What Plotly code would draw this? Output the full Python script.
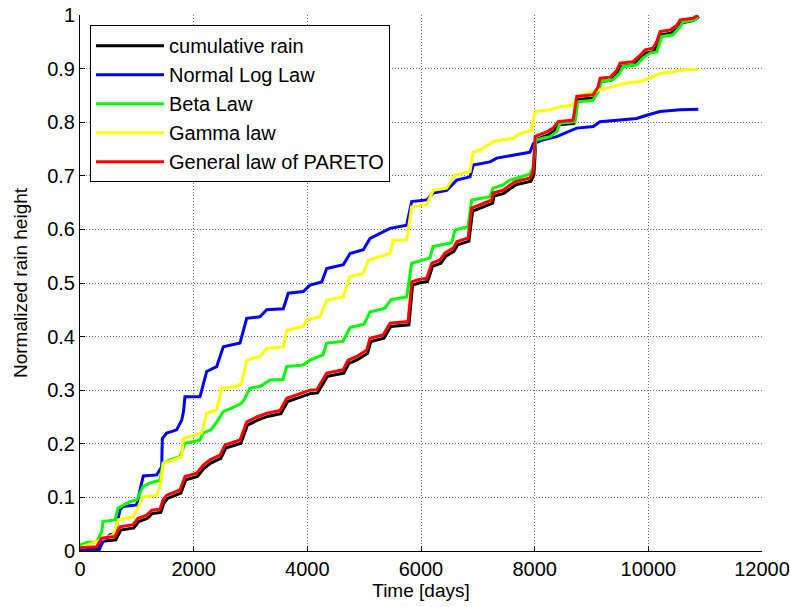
import plotly.graph_objects as go

# ---------------- data ----------------
# cumulative rain (black)
rain_x = [0, 300, 395, 630, 718, 947, 1035, 1188, 1276, 1422, 1475, 1540, 1774, 1862, 2068,
          2179, 2302, 2478, 2566, 2830, 2948, 3124, 3300, 3534, 3652, 3939, 4062, 4180, 4356,
          4643, 4731, 4884, 5060, 5118, 5347, 5470, 5787, 5852, 5963, 6116, 6204, 6350, 6438,
          6579, 6644, 6843, 6908, 7054, 7260, 7283, 7459, 7582, 7670, 7934, 7987, 8022, 8075,
          8228, 8339, 8427, 8691, 8756, 9043, 9131, 9166, 9342, 9460, 9518, 9747, 9870, 9958,
          10099, 10164, 10222, 10398, 10516, 10574, 10803, 10890]
rain_y = [0.003, 0.004, 0.018, 0.021, 0.039, 0.043, 0.055, 0.061, 0.070, 0.072, 0.089, 0.098,
          0.108, 0.133, 0.139, 0.154, 0.164, 0.173, 0.192, 0.201, 0.235, 0.244, 0.251, 0.256,
          0.279, 0.289, 0.294, 0.295, 0.326, 0.332, 0.350, 0.357, 0.369, 0.391, 0.397, 0.419,
          0.422, 0.496, 0.500, 0.503, 0.531, 0.537, 0.550, 0.559, 0.571, 0.578, 0.634, 0.640,
          0.649, 0.662, 0.667, 0.677, 0.683, 0.690, 0.702, 0.767, 0.770, 0.776, 0.783, 0.795,
          0.798, 0.842, 0.845, 0.860, 0.876, 0.878, 0.891, 0.904, 0.907, 0.919, 0.929, 0.932,
          0.945, 0.963, 0.966, 0.975, 0.985, 0.990, 0.997]

# Normal Log Law (blue)
lognorm_x = [0, 334, 405, 528, 616, 669, 704, 757, 998, 1056, 1114, 1350, 1438, 1448, 1525,
             1701, 1789, 1821, 1847, 2111, 2229, 2405, 2521, 2815, 2933, 3167, 3285, 3577, 3665,
             3929, 4047, 4253, 4341, 4633, 4751, 4985, 5103, 5455, 5748, 5836, 6100, 6216, 6452,
             6628, 6862, 6920, 7214, 7332, 7624, 7918, 7976, 8152, 8387, 8739, 9032, 9149, 9501,
             9795, 9971, 10205, 10557, 10879]
lognorm_y = [0.000, 0.001, 0.018, 0.030, 0.033, 0.064, 0.077, 0.083, 0.086, 0.114, 0.140, 0.142,
             0.157, 0.210, 0.220, 0.226, 0.244, 0.260, 0.288, 0.288, 0.335, 0.344, 0.381, 0.388,
             0.434, 0.437, 0.450, 0.452, 0.481, 0.484, 0.496, 0.502, 0.527, 0.534, 0.555, 0.562,
             0.583, 0.602, 0.608, 0.652, 0.655, 0.668, 0.673, 0.692, 0.698, 0.720, 0.726, 0.733,
             0.739, 0.744, 0.760, 0.767, 0.773, 0.789, 0.792, 0.801, 0.804, 0.807, 0.813, 0.820,
             0.823, 0.824]

# Beta Law (green)
beta_x = [0, 118, 294, 382, 405, 616, 669, 880, 998, 1108, 1232, 1408, 1460, 1584, 1760, 1847,
          1988, 2111, 2164, 2305, 2428, 2516, 2657, 2833, 2886, 2991, 3167, 3343, 3572, 3637,
          3924, 4047, 4276, 4341, 4627, 4751, 4997, 5103, 5366, 5472, 5748, 5836, 5947, 6158,
          6211, 6540, 6598, 6827, 6892, 7091, 7214, 7267, 7443, 7566, 7684, 7918, 7971, 8023,
          8146, 8270, 8387, 8446, 8710, 8762, 9026, 9114, 9179, 9378, 9501, 9554, 9795, 9906,
          10029, 10147, 10235, 10434, 10557, 10610, 10821, 10874]
beta_y = [0.011, 0.016, 0.017, 0.036, 0.055, 0.058, 0.080, 0.092, 0.095, 0.120, 0.127, 0.132,
          0.164, 0.170, 0.176, 0.201, 0.204, 0.207, 0.220, 0.226, 0.244, 0.260, 0.266, 0.275,
          0.282, 0.304, 0.307, 0.319, 0.320, 0.344, 0.347, 0.356, 0.366, 0.388, 0.391, 0.417,
          0.423, 0.446, 0.453, 0.469, 0.474, 0.537, 0.540, 0.547, 0.568, 0.575, 0.599, 0.605,
          0.655, 0.659, 0.661, 0.677, 0.683, 0.692, 0.696, 0.703, 0.716, 0.767, 0.770, 0.773,
          0.782, 0.798, 0.801, 0.838, 0.841, 0.857, 0.876, 0.879, 0.892, 0.904, 0.907, 0.920,
          0.929, 0.931, 0.960, 0.963, 0.978, 0.987, 0.991, 0.997]

# Gamma law (yellow)
gamma_x = [0, 352, 586, 674, 938, 1114, 1350, 1408, 1466, 1642, 1789, 1818, 1994, 2141, 2229,
           2405, 2493, 2757, 2845, 2933, 3167, 3285, 3577, 3637, 3929, 3989, 4223, 4341, 4633,
           4751, 4985, 5073, 5455, 5513, 5748, 5836, 6100, 6216, 6452, 6598, 6862, 6920, 7038,
           7272, 7624, 7742, 7948, 8006, 8270, 8446, 8680, 8739, 9032, 9149, 9384, 9619, 9853,
           10029, 10205, 10439, 10557, 10879]
gamma_y = [0.006, 0.020, 0.030, 0.058, 0.064, 0.101, 0.104, 0.120, 0.164, 0.170, 0.176, 0.210,
           0.216, 0.220, 0.257, 0.263, 0.304, 0.307, 0.313, 0.356, 0.363, 0.378, 0.381, 0.412,
           0.419, 0.431, 0.437, 0.468, 0.474, 0.512, 0.518, 0.543, 0.555, 0.580, 0.580, 0.642,
           0.646, 0.673, 0.677, 0.701, 0.708, 0.745, 0.748, 0.764, 0.770, 0.779, 0.785, 0.820,
           0.823, 0.829, 0.832, 0.848, 0.857, 0.860, 0.866, 0.873, 0.876, 0.882, 0.891, 0.894,
           0.897, 0.899]

# General law of PARETO (red)
pareto_x = [0, 294, 382, 616, 704, 933, 1021, 1174, 1262, 1408, 1461, 1526, 1760, 1848, 2054,
            2165, 2288, 2464, 2552, 2816, 2934, 3110, 3286, 3520, 3638, 3925, 4048, 4166, 4342,
            4629, 4717, 4870, 5046, 5104, 5333, 5456, 5773, 5838, 5949, 6102, 6190, 6336, 6424,
            6565, 6630, 6829, 6894, 7040, 7246, 7269, 7445, 7568, 7656, 7920, 7973, 8008, 8061,
            8214, 8325, 8413, 8677, 8742, 9029, 9117, 9152, 9328, 9446, 9504, 9733, 9856, 9944,
            10085, 10150, 10208, 10384, 10502, 10560, 10789, 10877]
pareto_y = [0.006, 0.008, 0.024, 0.027, 0.045, 0.049, 0.061, 0.067, 0.076, 0.078, 0.095, 0.104,
            0.114, 0.139, 0.145, 0.160, 0.170, 0.179, 0.198, 0.207, 0.241, 0.250, 0.257, 0.262,
            0.285, 0.295, 0.300, 0.301, 0.332, 0.338, 0.356, 0.363, 0.375, 0.397, 0.403, 0.425,
            0.428, 0.502, 0.506, 0.509, 0.537, 0.543, 0.556, 0.565, 0.577, 0.584, 0.640, 0.646,
            0.655, 0.668, 0.673, 0.683, 0.689, 0.696, 0.708, 0.773, 0.776, 0.782, 0.789, 0.801,
            0.804, 0.848, 0.851, 0.866, 0.882, 0.884, 0.897, 0.910, 0.913, 0.925, 0.935, 0.938,
            0.951, 0.969, 0.972, 0.981, 0.991, 0.994, 1.000]

series_names = ["cumulative rain", "Normal Log Law", "Beta Law", "Gamma law", "General law of PARETO"]
series_colors = ["#000000", "#0000FF", "#00FF00", "#FFFF00", "#FF0000"]

x_ticks = [0, 2000, 4000, 6000, 8000, 10000, 12000]
x_ticktext = ["0", "2000", "4000", "6000", "8000", "10000", "12000"]
y_ticks = [0, 0.1, 0.2, 0.3, 0.4, 0.5, 0.6, 0.7, 0.8, 0.9, 1.0]
y_ticktext = ["0", "0.1", "0.2", "0.3", "0.4", "0.5", "0.6", "0.7", "0.8", "0.9", "1"]

# ---------------- figure ----------------
FONT = "Arial, 'Liberation Sans', sans-serif"
xs = [rain_x, lognorm_x, beta_x, gamma_x, pareto_x]
ys = [rain_y, lognorm_y, beta_y, gamma_y, pareto_y]

fig = go.Figure()
for name, color, x, y in zip(series_names, series_colors, xs, ys):
    fig.add_trace(go.Scatter(x=x, y=y, mode="lines", name=name,
                             line=dict(color=color, width=3)))

grid_style = dict(showgrid=True, gridcolor="#6e6e6e", gridwidth=1, griddash="1px,2px",
                  zeroline=False, automargin=False)

fig.update_layout(
    width=790, height=607,
    margin=dict(l=80, r=28, t=15, b=56, autoexpand=False),
    paper_bgcolor="white", plot_bgcolor="white",
    font=dict(family=FONT, size=20, color="black"),
    showlegend=True,
    legend=dict(x=0.0147, y=0.981, xanchor="left", yanchor="top",
                bgcolor="white", bordercolor="black", borderwidth=1,
                font=dict(family=FONT, size=20, color="black"),
                itemwidth=68, tracegroupgap=0),
    xaxis=dict(range=[0, 12000], tickvals=x_ticks, ticktext=x_ticktext,
               ticks="inside", ticklen=5, tickcolor="black", tickwidth=1,
               showline=True, linecolor="black", linewidth=1,
               title=dict(text="Time [days]", font=dict(size=19), standoff=4),
               **grid_style),
    yaxis=dict(range=[0, 1], tickvals=y_ticks, ticktext=y_ticktext,
               ticks="inside", ticklen=5, tickcolor="black", tickwidth=1,
               showline=True, linecolor="black", linewidth=1,
               title=dict(text="Normalized rain height", font=dict(size=19), standoff=14),
               **grid_style),
    xaxis2=dict(range=[0, 12000], tickvals=x_ticks, overlaying="x", side="top", anchor="y",
                ticks="inside", ticklen=5, tickcolor="black", showticklabels=False,
                showgrid=False, zeroline=False, showline=False, automargin=False),
    yaxis2=dict(range=[0, 1], tickvals=y_ticks, overlaying="y", side="right", anchor="x",
                ticks="inside", ticklen=5, tickcolor="black", showticklabels=False,
                showgrid=False, zeroline=False, showline=False, automargin=False),
)

fig.write_html("out.html")
